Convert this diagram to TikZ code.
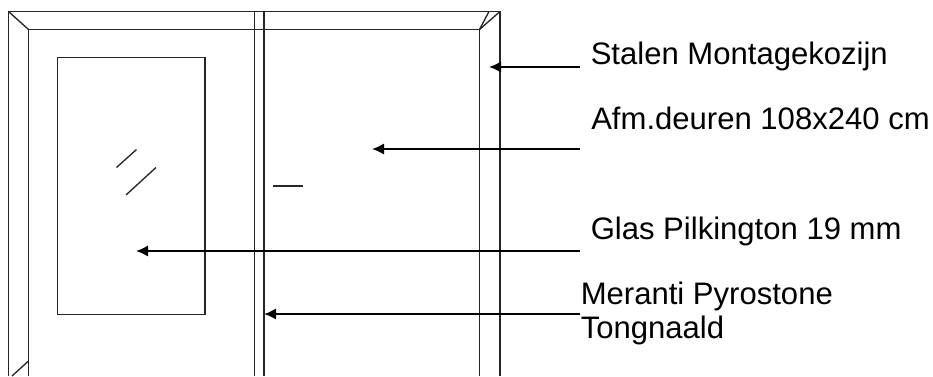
\documentclass[tikz,border=0pt]{standalone}
\usepackage{fontspec}
\setmainfont{Liberation Sans}
\usetikzlibrary{arrows.meta}

\tikzset{
	frameline/.style = {line width = 1pt, black!85},
	leader/.style = {line width = 1.5pt, -{Latex[length = 9pt, width = 8.5pt]}},
	doorlabel/.style = {anchor = base west, inner sep = 0, font = \fontsize{23.3}{25.8}\selectfont, align = left}
}

\begin{document}
\begin{tikzpicture}[x = 0.75pt, y = -0.75pt]

	\useasboundingbox (0, 0) rectangle (933, 376);

	% Frame
	
	\draw [frameline] (8.5, 376) -- (8.5, 11.5) -- (500, 11.5) -- (500, 376);
	\draw [frameline] (28.5, 376) -- (28.5, 29.5) -- (479.5, 29.5) -- (479.5, 376);
	
	% Corners
	
	\draw [frameline] (8.5, 11.5) -- (28.5, 29.5);
	\draw [frameline] (500, 11.5) -- (479.5, 29.5);
	\draw [frameline] (489, 11.5) -- (479.5, 29.5);
	\draw [frameline] (28.5, 361) -- (12, 376);
	
	% Mullion
	
	\draw [frameline] (254.5, 11.5) -- (254.5, 376);
	\draw [frameline] (264, 11.5) -- (264, 376);
	
	% Glass
	
	\draw [frameline] (57.5, 57.5) rectangle (205, 314.5);
	\draw [frameline] (116.5, 167.5) -- (136.5, 149.5);
	\draw [frameline] (126, 195) -- (156, 167.5);
	
	% Handle
	
	\draw [frameline] (273, 186) -- (303, 186);
	
	% Labels
	
	\node [doorlabel] (stalen) at (590.5, 64.5) {Stalen Montagekozijn};
	\node [doorlabel] (afmeting) at (591, 129) {Afm.deuren 108x240 cm};
	\node [doorlabel] (glas) at (590.5, 239) {Glas Pilkington 19 mm};
	\node [doorlabel] (meranti) at (580.5, 338.5) {Meranti Pyrostone\\Tongnaald};
	
	% Arrows
	
	\coordinate (stalentail) at (580, 67);
	\coordinate (afmetingtail) at (580, 149);
	\coordinate (glastail) at (580, 251);
	\coordinate (merantitail) at (580, 314);
	\coordinate (stalentip) at (489, 67);
	\coordinate (afmetingtip) at (372, 149);
	\coordinate (glastip) at (136, 251);
	\coordinate (merantitip) at (264, 314);
	
	\draw [leader] (stalentail) -- (stalentip);
	\draw [leader] (afmetingtail) -- (afmetingtip);
	\draw [leader] (glastail) -- (glastip);
	\draw [leader] (merantitail) -- (merantitip);

\end{tikzpicture}
\end{document}
